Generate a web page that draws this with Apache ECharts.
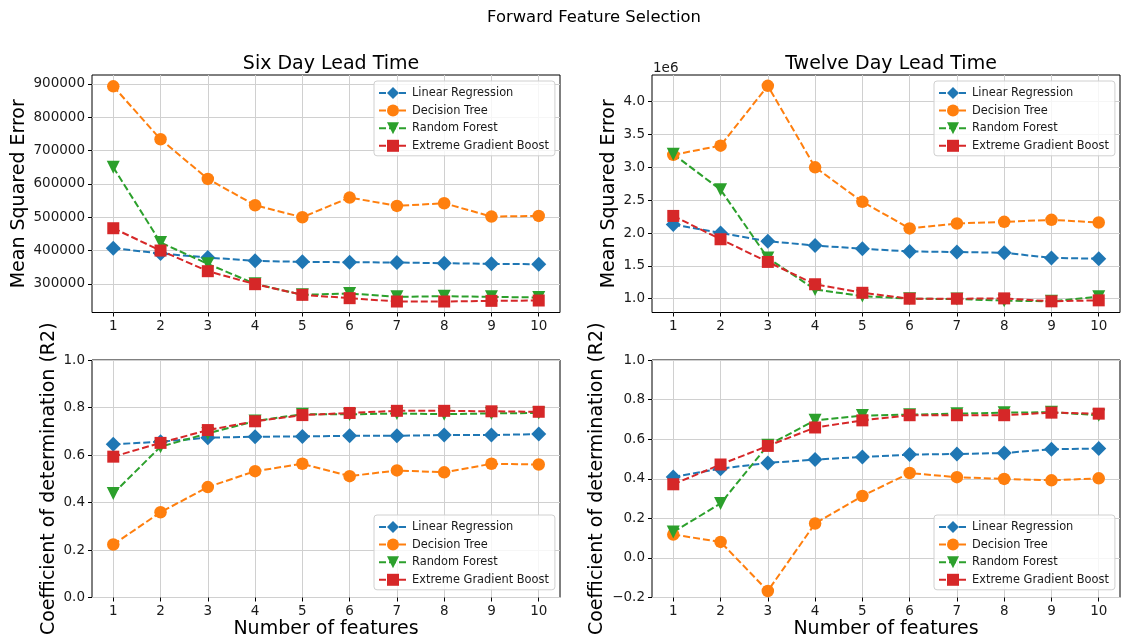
<!DOCTYPE html>
<html>
<head>
<meta charset="utf-8">
<title>Forward Feature Selection</title>
<script src="https://cdn.jsdelivr.net/npm/echarts@6/dist/echarts.min.js"></script>
<style>
  html, body { margin: 0; padding: 0; background: #fff; }
  #chart { width: 1121px; height: 642px; }
</style>
</head>
<body>
<div id="chart"></div>
<script>
// number of features on the x axis
const featureCounts = [1, 2, 3, 4, 5, 6, 7, 8, 9, 10]
const modelNames = ['Linear Regression', 'Decision Tree', 'Random Forest', 'Extreme Gradient Boost']

// six day lead time, mean squared error
const sixMseLinear = [407000, 391000, 379000, 369000, 366000, 365000, 364000, 362000, 360000, 359000]
const sixMseTree = [893000, 734000, 615000, 536000, 500000, 559000, 534000, 542000, 502000, 504000]
const sixMseForest = [650000, 424000, 360000, 300000, 267000, 271000, 261000, 263000, 261000, 259000]
const sixMseBoost = [467000, 400000, 338000, 299000, 267000, 257000, 247000, 247000, 249000, 250000]

// twelve day lead time, mean squared error
const twelveMseLinear = [2130000, 2000000, 1875000, 1810000, 1760000, 1720000, 1710000, 1700000, 1620000, 1610000]
const twelveMseTree = [3190000, 3330000, 4240000, 3000000, 2475000, 2070000, 2145000, 2170000, 2200000, 2160000]
const twelveMseForest = [3200000, 2660000, 1620000, 1140000, 1040000, 1000000, 995000, 970000, 960000, 1030000]
const twelveMseBoost = [2260000, 1905000, 1560000, 1220000, 1090000, 1000000, 1000000, 1005000, 960000, 975000]

// six day lead time, R2
const sixR2Linear = [0.645, 0.656, 0.673, 0.677, 0.678, 0.681, 0.681, 0.684, 0.684, 0.688]
const sixR2Tree = [0.223, 0.359, 0.465, 0.532, 0.563, 0.511, 0.535, 0.527, 0.563, 0.560]
const sixR2Forest = [0.438, 0.635, 0.691, 0.743, 0.772, 0.771, 0.775, 0.772, 0.775, 0.777]
const sixR2Boost = [0.593, 0.651, 0.705, 0.742, 0.768, 0.777, 0.786, 0.786, 0.784, 0.782]

// twelve day lead time, R2
const twelveR2Linear = [0.409, 0.451, 0.480, 0.497, 0.510, 0.522, 0.525, 0.530, 0.549, 0.553]
const twelveR2Tree = [0.118, 0.081, -0.167, 0.174, 0.313, 0.429, 0.408, 0.399, 0.392, 0.402]
const twelveR2Forest = [0.131, 0.275, 0.569, 0.695, 0.719, 0.724, 0.729, 0.734, 0.736, 0.721]
const twelveR2Boost = [0.372, 0.472, 0.566, 0.659, 0.695, 0.721, 0.721, 0.721, 0.734, 0.729]

// tick labels
const sixMseTicks = [300000, 400000, 500000, 600000, 700000, 800000, 900000]
const twelveMseTicks = [1000000, 1500000, 2000000, 2500000, 3000000, 3500000, 4000000]
const sixR2Ticks = [0, 0.2, 0.4, 0.6, 0.8, 1.0]
const twelveR2Ticks = [-0.2, 0, 0.2, 0.4, 0.6, 0.8, 1.0]

const FONT = 'DejaVu Sans'
const colors = ['#1f77b4', '#ff7f0e', '#2ca02c', '#d62728']
const symbols = ['diamond', 'circle', 'triangle', 'rect']
const symbolSizes = [15, 12.5, 13, 12]
const symbolRotates = [0, 0, 180, 0]

const panels = [
  { grid: { left: 92, top: 75 }, yMin: 214000, yMax: 927000, ticks: sixMseTicks,
    fmt: v => String(v), yName: 'Mean Squared Error', nameGap: 63,
    lines: [sixMseLinear, sixMseTree, sixMseForest, sixMseBoost], legendTop: 81 },
  { grid: { left: 652, top: 75 }, yMin: 790000, yMax: 4405000, ticks: twelveMseTicks,
    fmt: v => (v / 1e6).toFixed(1), yName: 'Mean Squared Error', nameGap: 33,
    lines: [twelveMseLinear, twelveMseTree, twelveMseForest, twelveMseBoost], legendTop: 81 },
  { grid: { left: 92, top: 360 }, yMin: 0, yMax: 1, ticks: sixR2Ticks,
    fmt: v => v.toFixed(1), yName: 'Coefficient of determination (R2)', nameGap: 33, xName: true,
    lines: [sixR2Linear, sixR2Tree, sixR2Forest, sixR2Boost], legendTop: 515 },
  { grid: { left: 652, top: 360 }, yMin: -0.2, yMax: 1, ticks: twelveR2Ticks,
    fmt: v => v.toFixed(1).replace('-', '\u2212'), yName: 'Coefficient of determination (R2)', nameGap: 45, xName: true,
    lines: [twelveR2Linear, twelveR2Tree, twelveR2Forest, twelveR2Boost], legendTop: 515 },
]

const tickStyle = { color: '#1a1a1a', fontFamily: FONT, fontSize: 13.5 }
const gridLine = { show: true, lineStyle: { color: '#d0d0d0', width: 1 } }

const chart = echarts.init(document.getElementById('chart'), null, { renderer: 'canvas' })

const option = {
  animation: false,
  backgroundColor: '#fff',
  title: [
    { text: 'Forward Feature Selection', left: 589, top: 5, textAlign: 'center',
      textStyle: { fontFamily: FONT, fontSize: 16.4, fontWeight: 'normal', color: '#000' } },
    { text: 'Six Day Lead Time', left: 326, top: 50, textAlign: 'center',
      textStyle: { fontFamily: FONT, fontSize: 19, fontWeight: 'normal', color: '#000' } },
    { text: 'Twelve Day Lead Time', left: 886, top: 50, textAlign: 'center',
      textStyle: { fontFamily: FONT, fontSize: 19, fontWeight: 'normal', color: '#000' } },
  ],
  grid: panels.map(p => ({
    left: p.grid.left, top: p.grid.top, width: 468, height: 237.5,
    show: true, borderColor: '#000', borderWidth: 1, backgroundColor: 'transparent',
  })),
  legend: panels.map(p => ({
    data: modelNames,
    orient: 'vertical',
    left: p.grid.left + 282,
    top: p.legendTop,
    itemWidth: 28,
    itemHeight: 15,
    itemGap: 5.6,
    padding: [6, 6, 4, 4],
    borderColor: '#d0d0d0',
    borderWidth: 1,
    borderRadius: 3,
    backgroundColor: 'rgba(255,255,255,0.8)',
    textStyle: { fontFamily: FONT, fontSize: 11.4, color: '#1a1a1a' },
  })),
  xAxis: panels.map((p, i) => ({
    type: 'value', gridIndex: i, min: 0.55, max: 10.45,
    name: p.xName ? 'Number of features' : '',
    nameLocation: 'middle', nameGap: 22,
    nameTextStyle: { fontFamily: FONT, fontSize: 19, color: '#000' },
    axisLine: { show: false, onZero: false },
    axisTick: { show: true, length: 4, lineStyle: { color: '#000' }, customValues: featureCounts },
    axisLabel: { ...tickStyle, margin: 7, customValues: featureCounts, formatter: v => String(v) },
    splitLine: gridLine,
  })),
  yAxis: panels.map((p, i) => ({
    type: 'value', gridIndex: i, min: p.yMin, max: p.yMax,
    name: p.yName, nameLocation: 'middle', nameGap: p.nameGap,
    nameTextStyle: { fontFamily: FONT, fontSize: 19, color: '#000' },
    axisLine: { show: false, onZero: false },
    axisTick: { show: true, length: 4, lineStyle: { color: '#000' }, customValues: p.ticks },
    axisLabel: { ...tickStyle, margin: 7, customValues: p.ticks, formatter: p.fmt },
    splitLine: gridLine,
  })),
  graphic: [
    { type: 'text', left: 653, top: 61,
      style: { text: '1e6', font: '13.5px "DejaVu Sans"', fill: '#1a1a1a' } },
  ],
  series: [],
}

panels.forEach((p, i) => {
  p.lines.forEach((vals, j) => {
    option.series.push({
      name: modelNames[j],
      type: 'line',
      xAxisIndex: i,
      yAxisIndex: i,
      data: featureCounts.map((x, k) => [x, vals[k]]),
      symbol: symbols[j],
      symbolSize: symbolSizes[j],
      symbolRotate: symbolRotates[j],
      showAllSymbol: true,
      clip: false,
      lineStyle: { color: colors[j], width: 2, type: [7, 3] },
      itemStyle: { color: colors[j] },
    })
  })
})

chart.setOption(option)
</script>
</body>
</html>
